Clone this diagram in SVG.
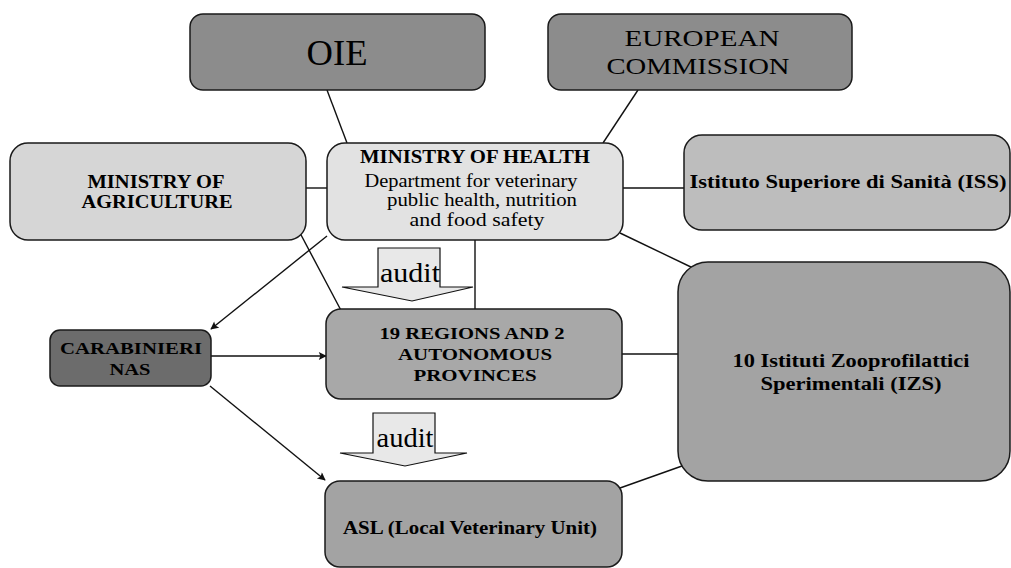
<svg xmlns="http://www.w3.org/2000/svg" width="1011" height="568" viewBox="0 0 1011 568">
<style>
.box{stroke:#1a1a1a;stroke-width:1.5}
.t{font-family:"Liberation Serif","Times New Roman",serif;fill:#000;text-anchor:middle}
.b{font-weight:bold}
.ln{stroke:#111;stroke-width:1.4;fill:none}
.audit{fill:#e8e8e8;stroke:#111;stroke-width:1.2}
</style>
<defs>
<marker id="ah" viewBox="0 0 10 10" refX="9" refY="5" markerWidth="10" markerHeight="8" markerUnits="userSpaceOnUse" orient="auto">
<path d="M0,0 L10,5 L0,10 L2,5 z" fill="#111"/>
</marker>
</defs>
<rect width="1011" height="568" fill="#fff"/>
<g id="connectors">
<line class="ln" x1="327" y1="90" x2="347" y2="143"/>
<line class="ln" x1="638" y1="90" x2="603" y2="143"/>
<line class="ln" x1="300" y1="188" x2="327" y2="188"/>
<line class="ln" x1="621" y1="188" x2="684" y2="188"/>
<line class="ln" x1="620" y1="233" x2="693" y2="268"/>
<line class="ln" x1="300" y1="233" x2="344" y2="316"/>
<line class="ln" x1="327" y1="236" x2="211" y2="329" marker-end="url(#ah)"/>
<line class="ln" x1="475" y1="240" x2="475" y2="309"/>
<line class="ln" x1="211" y1="356" x2="326" y2="356" marker-end="url(#ah)"/>
<line class="ln" x1="210" y1="386" x2="325" y2="480" marker-end="url(#ah)"/>
<line class="ln" x1="622" y1="354" x2="678" y2="354"/>
<line class="ln" x1="620" y1="488" x2="682" y2="466"/>
</g>
<g id="oie">
<rect class="box" x="190" y="14" width="295" height="76" rx="13" fill="#8c8c8c"/>
<text class="t" x="337" y="65" font-size="36" textLength="61" lengthAdjust="spacingAndGlyphs">OIE</text>
</g>
<g id="ec">
<rect class="box" x="548" y="14" width="304" height="76" rx="13" fill="#8c8c8c"/>
<text class="t" x="702" y="46" font-size="23" textLength="155" lengthAdjust="spacingAndGlyphs">EUROPEAN</text>
<text class="t" x="698" y="74" font-size="23" textLength="183" lengthAdjust="spacingAndGlyphs">COMMISSION</text>
</g>
<g id="moa">
<rect class="box" x="10" y="143" width="296" height="97" rx="18" fill="#d6d6d6"/>
<text class="t b" x="156" y="188" font-size="18" textLength="137" lengthAdjust="spacingAndGlyphs">MINISTRY OF</text>
<text class="t b" x="157" y="208" font-size="18" textLength="151" lengthAdjust="spacingAndGlyphs">AGRICULTURE</text>
</g>
<g id="moh">
<rect class="box" x="327" y="143" width="296" height="97" rx="18" fill="#e2e2e2"/>
<text class="t b" x="475" y="163" font-size="18" textLength="230" lengthAdjust="spacingAndGlyphs">MINISTRY OF HEALTH</text>
<text class="t" x="471" y="187" font-size="19" textLength="213" lengthAdjust="spacingAndGlyphs">Department for veterinary</text>
<text class="t" x="482" y="206" font-size="19" textLength="190" lengthAdjust="spacingAndGlyphs">public health, nutrition</text>
<text class="t" x="477" y="226" font-size="19" textLength="135" lengthAdjust="spacingAndGlyphs">and food safety</text>
</g>
<g id="iss">
<rect class="box" x="684" y="135" width="326" height="95" rx="18" fill="#bdbdbd"/>
<text class="t b" x="848" y="188" font-size="19" textLength="317" lengthAdjust="spacingAndGlyphs">Istituto Superiore di Sanità (ISS)</text>
</g>
<g id="audit1">
<path class="audit" d="M378,248 H440 V287 H473 L412,301 L342,287 H378 Z"/>
<text class="t" x="410" y="282" font-size="27" textLength="60" lengthAdjust="spacingAndGlyphs">audit</text>
</g>
<g id="carabinieri">
<rect class="box" x="50" y="330" width="161" height="56" rx="10" fill="#6c6c6c"/>
<text class="t b" x="131" y="354" font-size="16.5" textLength="142" lengthAdjust="spacingAndGlyphs">CARABINIERI</text>
<text class="t b" x="130" y="375" font-size="16.5" textLength="41" lengthAdjust="spacingAndGlyphs">NAS</text>
</g>
<g id="regions">
<rect class="box" x="326" y="309" width="296" height="90" rx="15" fill="#a8a8a8"/>
<text class="t b" x="472" y="339" font-size="17" textLength="185" lengthAdjust="spacingAndGlyphs">19 REGIONS AND 2</text>
<text class="t b" x="475" y="360" font-size="17" textLength="154" lengthAdjust="spacingAndGlyphs">AUTONOMOUS</text>
<text class="t b" x="475" y="381" font-size="17" textLength="123" lengthAdjust="spacingAndGlyphs">PROVINCES</text>
</g>
<g id="izs">
<rect class="box" x="678" y="262" width="332" height="219" rx="30" fill="#a3a3a3"/>
<text class="t b" x="851" y="367" font-size="19" textLength="237" lengthAdjust="spacingAndGlyphs">10 Istituti Zooprofilattici</text>
<text class="t b" x="851" y="390" font-size="19" textLength="181" lengthAdjust="spacingAndGlyphs">Sperimentali (IZS)</text>
</g>
<g id="audit2">
<path class="audit" d="M373,413 H435 V453 H467 L405,466 L340,453 H373 Z"/>
<text class="t" x="405" y="447" font-size="27" textLength="57" lengthAdjust="spacingAndGlyphs">audit</text>
</g>
<g id="asl">
<rect class="box" x="325" y="481" width="297" height="86" rx="15" fill="#a3a3a3"/>
<text class="t b" x="470" y="534" font-size="18" textLength="254" lengthAdjust="spacingAndGlyphs">ASL (Local Veterinary Unit)</text>
</g>
</svg>
